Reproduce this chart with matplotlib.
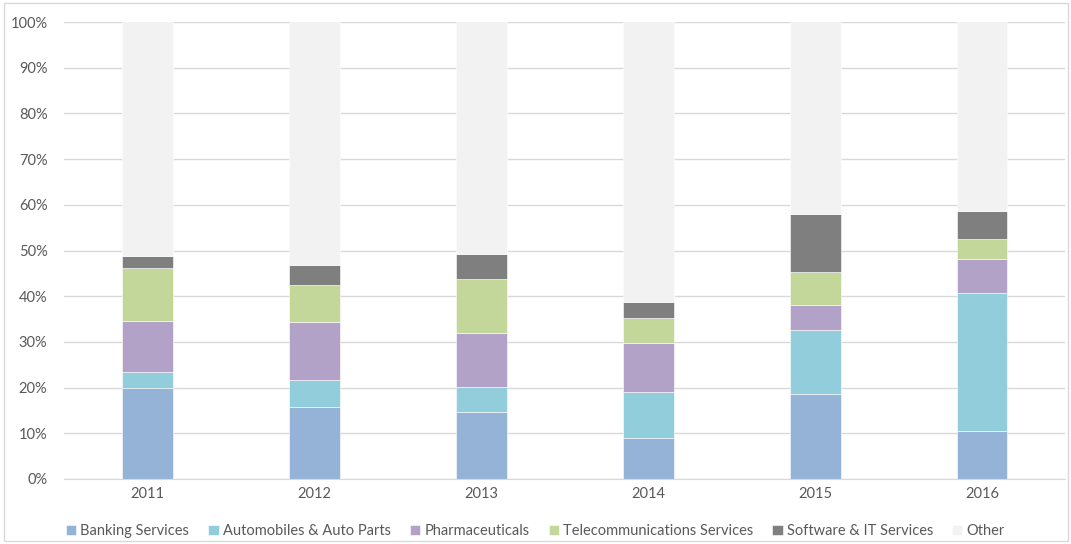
import numpy as np
import matplotlib.pyplot as plt
from matplotlib.patches import Rectangle
from matplotlib.ticker import PercentFormatter

# 各年份行业占比（%）
years = ['2011', '2012', '2013', '2014', '2015', '2016']
banking = [20.0, 15.8, 14.7, 9.0, 18.7, 10.4]
automobiles = [3.4, 5.9, 5.5, 10.0, 14.0, 30.3]
pharma = [11.2, 12.7, 11.8, 10.8, 5.4, 7.4]
telecom = [11.6, 8.1, 11.8, 5.4, 7.3, 4.4]
software = [2.6, 4.3, 5.5, 3.5, 12.6, 6.1]

series_names = ['Banking Services', 'Automobiles & Auto Parts', 'Pharmaceuticals',
                'Telecommunications Services', 'Software & IT Services', 'Other']
colors = ['#95B3D7', '#92CDDC', '#B2A2C7', '#C4D79B', '#7F7F7F', '#F2F2F2']


def main():
    plt.rcParams['font.family'] = ['Lato', 'DejaVu Sans']
    fig = plt.figure(figsize=(10.71, 5.44), dpi=100)
    ax = fig.add_axes([0.0598, 0.1195, 0.935, 0.840])

    parts = [banking, automobiles, pharma, telecom, software]
    other = [100 - sum(v) for v in zip(*parts)]
    parts.append(other)

    x = np.arange(len(years))
    bottom = np.zeros(len(years))
    for name, vals, c in zip(series_names, parts, colors):
        ax.bar(x, vals, width=0.305, bottom=bottom, color=c, label=name,
               edgecolor='white', linewidth=0.4, zorder=2)
        bottom += np.array(vals)

    ax.set_xlim(-0.5, len(years) - 0.5)
    ax.set_ylim(0, 100)
    ax.set_yticks(np.arange(0, 101, 10))
    ax.yaxis.set_major_formatter(PercentFormatter(decimals=0))
    ax.set_xticks(x)
    ax.set_xticklabels(years)
    ax.grid(axis='y', color='#D9D9D9', linewidth=1, zorder=0)
    for s in ['top', 'right', 'left']:
        ax.spines[s].set_visible(False)
    ax.spines['bottom'].set_color('#D9D9D9')
    ax.tick_params(axis='both', length=0, labelsize=10.5, colors='#595959')
    ax.tick_params(axis='y', pad=12)
    ax.tick_params(axis='x', pad=6)

    fig.legend(loc='center', bbox_to_anchor=(0.5, 0.024), ncol=6, frameon=False,
               fontsize=10.5, handlelength=0.7, handleheight=0.7, handletextpad=0.3,
               columnspacing=1.3, labelcolor='#595959')

    # 外边框
    fig.patches.append(Rectangle((0.004, 0.006), 0.993, 0.988, transform=fig.transFigure,
                                 fill=False, edgecolor='#D9D9D9', linewidth=1))

    fig.savefig('out.png', dpi=100)


if __name__ == '__main__':
    main()
